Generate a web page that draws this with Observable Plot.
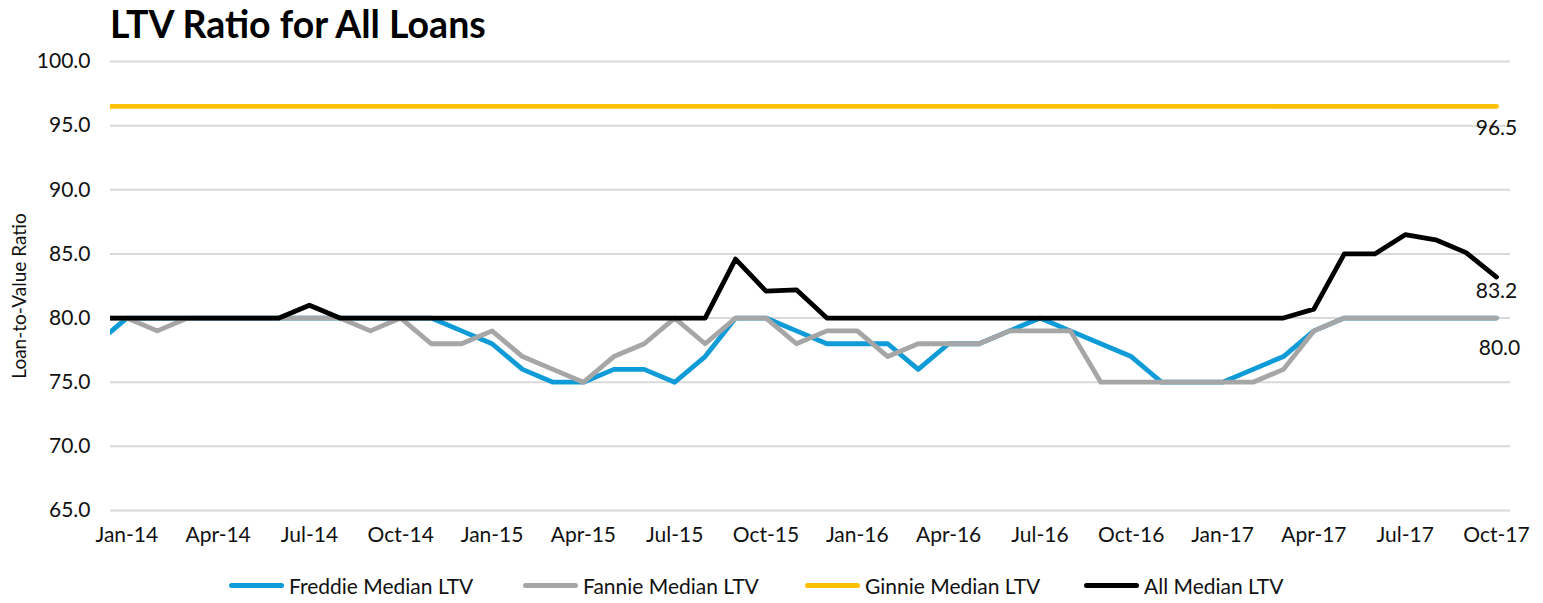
<!DOCTYPE html>
<html>
<head>
<meta charset="utf-8">
<script src="https://cdn.jsdelivr.net/npm/d3@7"></script>
<script src="https://cdn.jsdelivr.net/npm/@observablehq/plot@0.6"></script>
<style>
  html, body { margin: 0; padding: 0; background: #fff; }
  body { width: 1543px; height: 603px; position: relative; font-family: Lato, "Noto Sans", sans-serif; color: #111; overflow: hidden; }
  #title { position: absolute; left: 110px; top: 0; height: 48px; line-height: 48px; font-size: 37.5px; font-weight: 700; color: #000; white-space: nowrap; }
  #chart { position: absolute; left: 0; top: 48px; }
  #legend { position: absolute; top: 572px; left: 0; height: 26px; font-size: 21px; color: #111; }
  .item { position: absolute; top: 0; height: 26px; display: flex; align-items: center; white-space: nowrap; }
  .sw { width: 55px; height: 5px; border-radius: 3px; margin-right: 5px; }
</style>
</head>
<body>
<div id="title">LTV Ratio for All Loans</div>
<div id="chart"></div>
<div id="legend"></div>
<script>
// Month categories (Dec-13 lies just outside the left edge of the plot and is clipped)
const months = ["Dec-13",
  "Jan-14","Feb-14","Mar-14","Apr-14","May-14","Jun-14","Jul-14","Aug-14","Sep-14","Oct-14","Nov-14","Dec-14",
  "Jan-15","Feb-15","Mar-15","Apr-15","May-15","Jun-15","Jul-15","Aug-15","Sep-15","Oct-15","Nov-15","Dec-15",
  "Jan-16","Feb-16","Mar-16","Apr-16","May-16","Jun-16","Jul-16","Aug-16","Sep-16","Oct-16","Nov-16","Dec-16",
  "Jan-17","Feb-17","Mar-17","Apr-17","May-17","Jun-17","Jul-17","Aug-17","Sep-17","Oct-17"];

const freddie = [78,
  80,80,80,80,80,80,80,80,80,80,80,79,
  78,76,75,75,76,76,75,77,80,80,79,78,
  78,78,76,78,78,79,80,79,78,77,75,75,
  75,76,77,79,80,80,80,80,80,80];

const fannie = [80,
  80,79,80,80,80,80,80,80,79,80,78,78,
  79,77,76,75,77,78,80,78,80,80,78,79,
  79,77,78,78,78,79,79,79,75,75,75,75,
  75,75,76,79,80,80,80,80,80,80];

const ginnie = [96.5,
  96.5,96.5,96.5,96.5,96.5,96.5,96.5,96.5,96.5,96.5,96.5,96.5,
  96.5,96.5,96.5,96.5,96.5,96.5,96.5,96.5,96.5,96.5,96.5,96.5,
  96.5,96.5,96.5,96.5,96.5,96.5,96.5,96.5,96.5,96.5,96.5,96.5,
  96.5,96.5,96.5,96.5,96.5,96.5,96.5,96.5,96.5,96.5];

const allLtv = [80,
  80,80,80,80,80,80,81,80,80,80,80,80,
  80,80,80,80,80,80,80,80,84.6,82.1,82.2,80,
  80,80,80,80,80,80,80,80,80,80,80,80,
  80,80,80,80.7,85.0,85.0,86.5,86.1,85.1,83.2];

const xTickLabels = ["Jan-14","Apr-14","Jul-14","Oct-14","Jan-15","Apr-15","Jul-15","Oct-15",
  "Jan-16","Apr-16","Jul-16","Oct-16","Jan-17","Apr-17","Jul-17","Oct-17"];
const yTicks = [65, 70, 75, 80, 85, 90, 95, 100];

const seriesNames = ["Freddie Median LTV", "Fannie Median LTV", "Ginnie Median LTV", "All Median LTV"];
const seriesColors = ["#0f9bd7", "#a6a6a6", "#ffc000", "#000000"];
const seriesValues = [freddie, fannie, ginnie, allLtv];

// month index relative to Jan-14
const idx = m => months.indexOf(m) - 1;
const rows = seriesNames.map((name, s) => months.map((m, i) => ({series: name, month: m, i: idx(m), v: seriesValues[s][i]})));
const last = rows.map(r => r[r.length - 1]);

const lineMark = s => Plot.line(rows[s], {x: "i", y: "v", stroke: seriesColors[s], strokeWidth: 4.8,
  strokeLinejoin: "round", strokeLinecap: "round", clip: true});

const chart = Plot.plot({
  width: 1543,
  height: 502,
  marginTop: 13,
  marginLeft: 110,
  marginRight: 33,
  marginBottom: 40,
  style: {fontFamily: "Lato, 'Noto Sans', sans-serif", fontSize: "21px", color: "#111", background: "white", overflow: "visible"},
  x: {domain: [-0.536, 45.46], axis: null},
  y: {domain: [65, 100], axis: null},
  marks: [
    Plot.ruleY(yTicks, {stroke: "#d9d9d9", strokeWidth: 2}),
    Plot.axisY(yTicks, {anchor: "left", tickSize: 0, tickPadding: 20, tickFormat: d3.format(".1f"), fontSize: 21, label: null}),
    Plot.axisX(xTickLabels.map(idx), {anchor: "bottom", tickSize: 0, tickPadding: 17, fontSize: 21, label: null,
      tickFormat: i => months[i + 1]}),
    Plot.text(["Loan-to-Value Ratio"], {frameAnchor: "left", textAnchor: "middle", dx: -91, dy: 10, rotate: -90, fontSize: 19, fill: "#111"}),
    lineMark(0),
    lineMark(1),
    lineMark(2),
    lineMark(3),
    Plot.text([last[2]], {x: "i", y: "v", text: d => d3.format(".1f")(d.v), dy: 22, fontSize: 21, fill: "#111"}),
    Plot.text([last[3]], {x: "i", y: "v", text: d => d3.format(".1f")(d.v), dy: 14, fontSize: 21, fill: "#111"}),
    Plot.text([last[1]], {x: "i", y: "v", text: d => d3.format(".1f")(d.v), dy: 30, dx: 3, fontSize: 21, fill: "#111"})
  ]
});
document.getElementById("chart").appendChild(chart);

// legend
const legend = document.getElementById("legend");
const legendLeft = [229, 523, 805, 1084];
seriesNames.forEach((name, s) => {
  const item = document.createElement("div");
  item.className = "item";
  item.style.left = legendLeft[s] + "px";
  const sw = document.createElement("div");
  sw.className = "sw";
  sw.style.background = seriesColors[s];
  const t = document.createElement("span");
  t.textContent = name;
  item.appendChild(sw);
  item.appendChild(t);
  legend.appendChild(item);
});
</script>
</body>
</html>
